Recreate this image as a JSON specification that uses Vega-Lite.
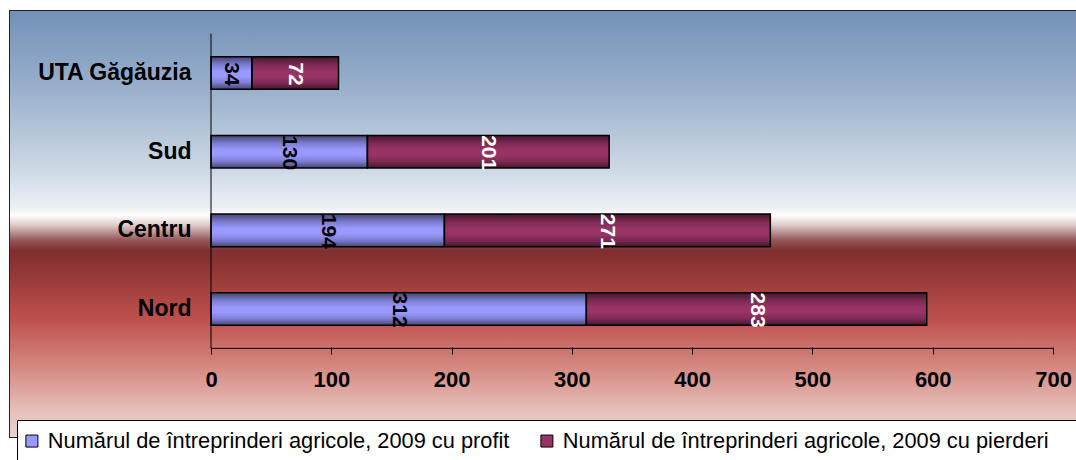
{
  "$schema": "https://vega.github.io/schema/vega-lite/v6.json",
  "width": 1066,
  "height": 426,
  "autosize": {"type": "none"},
  "padding": {"left": 10, "top": 11, "right": 0, "bottom": 23},
  "background": "white",
  "config": {
    "view": {"stroke": "#222222", "strokeWidth": 2},
    "font": "Liberation Sans",
    "text": {"font": "Liberation Sans"}
  },
  "data": {
    "values": [
      {"regiune": "Nord", "serie": "Numărul de întreprinderi agricole, 2009 cu profit", "n": 312},
      {"regiune": "Nord", "serie": "Numărul de întreprinderi agricole, 2009 cu pierderi", "n": 283},
      {"regiune": "Centru", "serie": "Numărul de întreprinderi agricole, 2009 cu profit", "n": 194},
      {"regiune": "Centru", "serie": "Numărul de întreprinderi agricole, 2009 cu pierderi", "n": 271},
      {"regiune": "Sud", "serie": "Numărul de întreprinderi agricole, 2009 cu profit", "n": 130},
      {"regiune": "Sud", "serie": "Numărul de întreprinderi agricole, 2009 cu pierderi", "n": 201},
      {"regiune": "UTA Găgăuzia", "serie": "Numărul de întreprinderi agricole, 2009 cu profit", "n": 34},
      {"regiune": "UTA Găgăuzia", "serie": "Numărul de întreprinderi agricole, 2009 cu pierderi", "n": 72}
    ]
  },
  "layer": [
    {
      "data": {"values": [{}]},
      "mark": {
        "type": "rect",
        "fill": {
          "gradient": "linear", "x1": 0, "y1": 0, "x2": 0, "y2": 1,
          "stops": [
            {"offset": 0, "color": "#7390B8"},
            {"offset": 0.211, "color": "#A0B6CF"},
            {"offset": 0.369, "color": "#CCD8E5"},
            {"offset": 0.465, "color": "#EEF1F5"},
            {"offset": 0.479, "color": "#FFFFFF"},
            {"offset": 0.5, "color": "#E2D2D1"},
            {"offset": 0.538, "color": "#95575A"},
            {"offset": 0.563, "color": "#7F2E2E"},
            {"offset": 0.631, "color": "#9A3C3A"},
            {"offset": 0.728, "color": "#C0524F"},
            {"offset": 0.833, "color": "#D4877F"},
            {"offset": 0.948, "color": "#E8C4BE"},
            {"offset": 1, "color": "#EAD0CC"}
          ]
        }
      },
      "encoding": {}
    },
    {
      "mark": {"type": "bar"},
      "encoding": {
        "y": {
          "field": "regiune", "type": "nominal",
          "scale": {"domain": ["UTA Găgăuzia", "Sud", "Centru", "Nord"], "paddingInner": 0.5865, "paddingOuter": 1, "align": 0.2904},
          "axis": {"zindex": 2, "domain": false, "ticks": false, "offset": -201, "labelFontSize": 23, "labelFontWeight": "bold", "labelColor": "black", "labelPadding": 20, "title": null, "labelLimit": 300, "labelFont": "Liberation Sans"}
        },
        "x": {
          "field": "n", "type": "quantitative", "stack": "zero",
          "scale": {"domain": [-167.1, 719.1], "nice": false, "zero": false},
          "axis": {"zindex": 2, "values": [0, 100, 200, 300, 400, 500, 600, 700], "domain": false, "grid": false, "ticks": true, "tickSize": 7, "tickColor": "black", "tickWidth": 1, "offset": -90, "labelFontSize": 22, "labelFontWeight": "bold", "labelColor": "black", "labelPadding": 15, "title": null, "labelFont": "Liberation Sans", "labelFlush": false, "labelOverlap": false}
        },
        "color": {
          "field": "serie", "type": "nominal",
          "scale": {"domain": ["Numărul de întreprinderi agricole, 2009 cu profit", "Numărul de întreprinderi agricole, 2009 cu pierderi"], "range": ["#9999FF", "#993366"]},
          "legend": {"orient": "none", "legendX": 7, "legendY": 409, "direction": "horizontal", "title": " ", "titleOrient": "right", "titlePadding": 40, "titleFontSize": 10, "fillColor": "white", "strokeColor": "black", "padding": 10, "symbolType": "square", "symbolSize": 144, "symbolStrokeColor": "black", "symbolStrokeWidth": 1, "symbolOffset": -6, "labelFontSize": 21.8, "labelFont": "Liberation Sans", "labelColor": "black", "labelOffset": 5, "columnPadding": 28, "labelLimit": 600, "symbolOpacity": 1}
        },
        "order": {"field": "serie", "sort": "descending"}
      }
    },
    {
      "mark": {
        "type": "bar", "stroke": "black", "strokeWidth": 1.5,
        "fill": {
          "gradient": "linear", "x1": 0, "y1": 0, "x2": 0, "y2": 1,
          "stops": [
            {"offset": 0, "color": "rgba(0,0,0,0.55)"},
            {"offset": 0.25, "color": "rgba(0,0,0,0.18)"},
            {"offset": 0.45, "color": "rgba(0,0,0,0)"},
            {"offset": 0.6, "color": "rgba(0,0,0,0)"},
            {"offset": 0.8, "color": "rgba(0,0,0,0.18)"},
            {"offset": 1, "color": "rgba(0,0,0,0.55)"}
          ]
        }
      },
      "encoding": {
        "y": {"field": "regiune", "type": "nominal"},
        "x": {"field": "n", "type": "quantitative", "stack": "zero"},
        "detail": {"field": "serie"},
        "order": {"field": "serie", "sort": "descending"}
      }
    },
    {
      "mark": {"type": "text", "angle": 90, "fontSize": 21, "fontWeight": "bold", "align": "center", "baseline": "middle", "font": "Liberation Sans", "dx": 1},
      "encoding": {
        "y": {"field": "regiune", "type": "nominal"},
        "x": {"field": "n", "type": "quantitative", "stack": "zero", "bandPosition": 0.5},
        "detail": {"field": "serie"},
        "order": {"field": "serie", "sort": "descending"},
        "text": {"field": "n", "type": "quantitative"},
        "color": {"condition": {"test": "indexof(datum.serie, 'pierderi') >= 0", "value": "white"}, "value": "black"}
      }
    },
    {
      "data": {"values": [{}]},
      "mark": {"type": "rule", "color": "black", "strokeWidth": 1},
      "encoding": {
        "x": {"datum": 0, "type": "quantitative"},
        "y": {"datum": "UTA Găgăuzia", "type": "nominal", "bandPosition": -0.709},
        "y2": {"datum": "Nord", "bandPosition": 1.709}
      }
    },
    {
      "data": {"values": [{}]},
      "mark": {"type": "rule", "color": "black", "strokeWidth": 1},
      "encoding": {
        "x": {"datum": 0, "type": "quantitative"},
        "x2": {"datum": 700},
        "y": {"datum": "Nord", "type": "nominal", "bandPosition": 1.709}
      }
    }
  ]
}
